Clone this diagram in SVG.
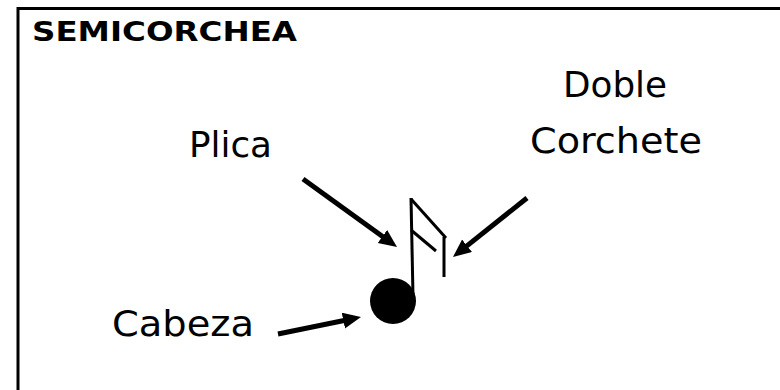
<svg xmlns="http://www.w3.org/2000/svg" width="780" height="390" viewBox="0 0 780 390">
<style>
.lbl{font-family:"DejaVu Sans","Liberation Sans",sans-serif;font-size:35px;fill:#000;}
.ttl{font-family:"DejaVu Sans","Liberation Sans",sans-serif;font-size:27px;font-weight:bold;fill:#000;}
.arr{stroke:#000;stroke-width:5;fill:none;marker-end:url(#ah);}
</style>
<defs>
<marker id="ah" markerUnits="userSpaceOnUse" markerWidth="20" markerHeight="18" refX="7" refY="8" orient="auto">
<path d="M0,0 L18,8 L0,16 z" fill="#000"/>
</marker>
</defs>
<rect width="780" height="390" fill="#fff"/>
<g id="frame">
<path d="M18,390 L18,8.5 L780,8.5" stroke="#000" stroke-width="3" fill="none"/>
</g>
<g id="title"><text class="ttl" x="32" y="41" textLength="265" lengthAdjust="spacingAndGlyphs">SEMICORCHEA</text></g>
<g id="note">
<circle cx="393" cy="301" r="23" fill="#000"/>
<line x1="413" y1="296" x2="411" y2="198" stroke="#000" stroke-width="3"/>
<line x1="411" y1="199" x2="446" y2="238" stroke="#000" stroke-width="3"/>
<line x1="444" y1="237" x2="444" y2="277" stroke="#000" stroke-width="3"/>
<line x1="411" y1="230" x2="436" y2="251" stroke="#000" stroke-width="3"/>
</g>
<g id="plica"><text class="lbl" x="189" y="157" textLength="83" lengthAdjust="spacingAndGlyphs">Plica</text></g>
<g id="doble-corchete">
<text class="lbl" x="563" y="97" textLength="104" lengthAdjust="spacingAndGlyphs">Doble</text>
<text class="lbl" x="530" y="153" textLength="172" lengthAdjust="spacingAndGlyphs">Corchete</text>
</g>
<g id="cabeza"><text class="lbl" x="112" y="336" textLength="142" lengthAdjust="spacingAndGlyphs">Cabeza</text></g>
<g id="connectors">
<line class="arr" x1="303" y1="179" x2="388.1" y2="240.5"/>
<line class="arr" x1="527" y1="198" x2="461.6" y2="250.1"/>
<line class="arr" x1="278" y1="334" x2="350.2" y2="319.2"/>
</g>
</svg>
